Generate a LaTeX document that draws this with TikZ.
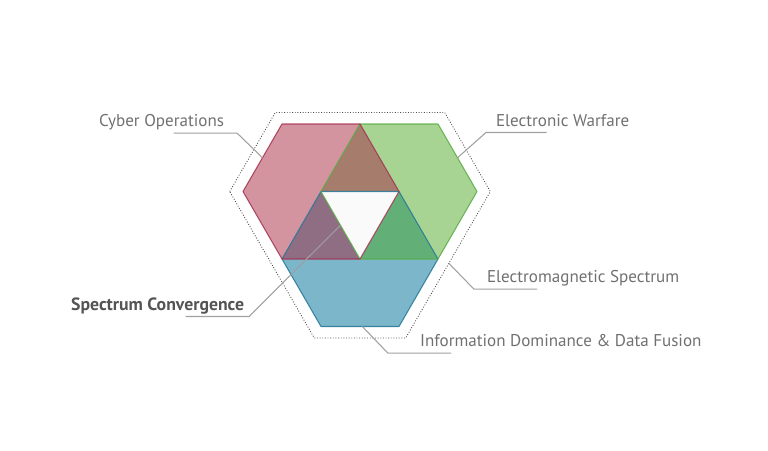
\documentclass[tikz,border=0pt]{standalone}
\usepackage{fontspec}
\setmainfont{PT Sans}
\usetikzlibrary{calc}
\definecolor{cyberfill}{RGB}{211,147,159}
\definecolor{ewfill}{RGB}{167,212,146}
\definecolor{infofill}{RGB}{124,182,202}
\definecolor{brownfill}{RGB}{166,124,108}
\definecolor{purplefill}{RGB}{143,109,131}
\definecolor{dgreenfill}{RGB}{98,175,120}
\definecolor{corefill}{RGB}{250,250,250}
\definecolor{cyberline}{RGB}{165,48,80}
\definecolor{ewline}{RGB}{88,172,66}
\definecolor{infoline}{RGB}{34,118,150}
\definecolor{labelgray}{RGB}{112,112,112}
\definecolor{boldgray}{RGB}{84,84,84}
\definecolor{leadergray}{RGB}{160,160,160}

\begin{document}
\begin{tikzpicture}[x=0.02cm,y=-0.02cm,% 1 unit = 1 px, y runs downwards
					every node/.style={
						font=\fontsize{9.7}{11}\selectfont,
						text=labelgray,
						inner sep=1pt,
						text depth=0.25em,	% same underline height for every label
						anchor=base west
						},
					leader/.style={draw=leadergray,line width=0.6pt},
					rim/.style={line width=0.6pt,line join=round,draw opacity=0.85},
					halo/.style={draw=black!70,line width=0.5pt,densely dotted}
					]
\useasboundingbox (0,0) rectangle (768,450);

% triangular grid of the three hexagons
\coordinate (A) at (243,191.5);
\coordinate (B) at (282,124);
\coordinate (C) at (360,124);
\coordinate (D) at (438,124);
\coordinate (E) at (477,191.5);
\coordinate (F) at (321,191.5);
\coordinate (G) at (399,191.5);
\coordinate (H) at (282,259);
\coordinate (I) at (360,259);
\coordinate (J) at (438,259);
\coordinate (K) at (321,326.5);
\coordinate (L) at (399,326.5);

% dotted outline
\coordinate (O1) at (229.7,191.5);
\coordinate (O2) at (275.3,112.5);
\coordinate (O3) at (444.7,112.5);
\coordinate (O4) at (490.3,191.5);
\coordinate (O5) at (405.7,338);
\coordinate (O6) at (314.3,338);
\draw[halo] (O1) -- (O2) -- (O3) -- (O4) -- (O5) -- (O6) -- cycle;

% pieces
\fill[cyberfill] (A) -- (B) -- (C) -- (F) -- (H) -- cycle;
\fill[ewfill] (C) -- (D) -- (E) -- (J) -- (G) -- cycle;
\fill[infofill] (H) -- (J) -- (L) -- (K) -- cycle;
\fill[brownfill] (C) -- (G) -- (F) -- cycle;
\fill[purplefill] (F) -- (I) -- (H) -- cycle;
\fill[dgreenfill] (G) -- (J) -- (I) -- cycle;
\fill[corefill] (F) -- (G) -- (I) -- cycle;

% hexagon outlines
\draw[rim,draw=infoline] (H) -- (F) -- (G) -- (J) -- (L) -- (K) -- cycle;
\draw[rim,draw=ewline] (F) -- (C) -- (D) -- (E) -- (J) -- (I) -- cycle;
\draw[rim,draw=cyberline] (A) -- (B) -- (C) -- (G) -- (I) -- (H) -- cycle;

% where the leaders touch
\coordinate (aCyber) at ($(A)!0.5!(B)$);
\coordinate (aEW) at ($(D)!0.5!(E)$);
\coordinate (aEMS) at ($(O4)!0.49!(O5)$);
\coordinate (aInfo) at ($(K)!0.53!(L)$);
\coordinate (aConv) at ($(F)!0.5!(I)$);

% labels
\node (cyber) at (97,126.7) {Cyber Operations};
\node (ew) at (494,126) {Electronic Warfare};
\node (ems) at (485,282.7) {Electromagnetic Spectrum};
\node (info) at (418,346.7) {Information Dominance \& Data Fusion};
\node[font=\fontsize{10.1}{12}\selectfont\bfseries,text=boldgray] (conv) at (69,310) {Spectrum Convergence};

\draw[leader] ($(cyber.south)+(12,0)$) -- ($(cyber.south east)+(11,0)$) -- (aCyber);
\draw[leader] ($(ew.south)+(-16,0)$) -- ($(ew.south west)+(-8,0)$) -- (aEW);
\draw[leader] ($(ems.south)+(-46,0)$) -- ($(ems.south west)+(-11,0)$) -- (aEMS);
\draw[leader] ($(info.south west)+(33,0)$) -- ($(info.south west)+(-30,0)$) -- (aInfo);
\draw[leader] ($(conv.south)+(28,0)$) -- ($(conv.south east)+(3,0)$) -- (aConv);
\end{tikzpicture}
\end{document}
